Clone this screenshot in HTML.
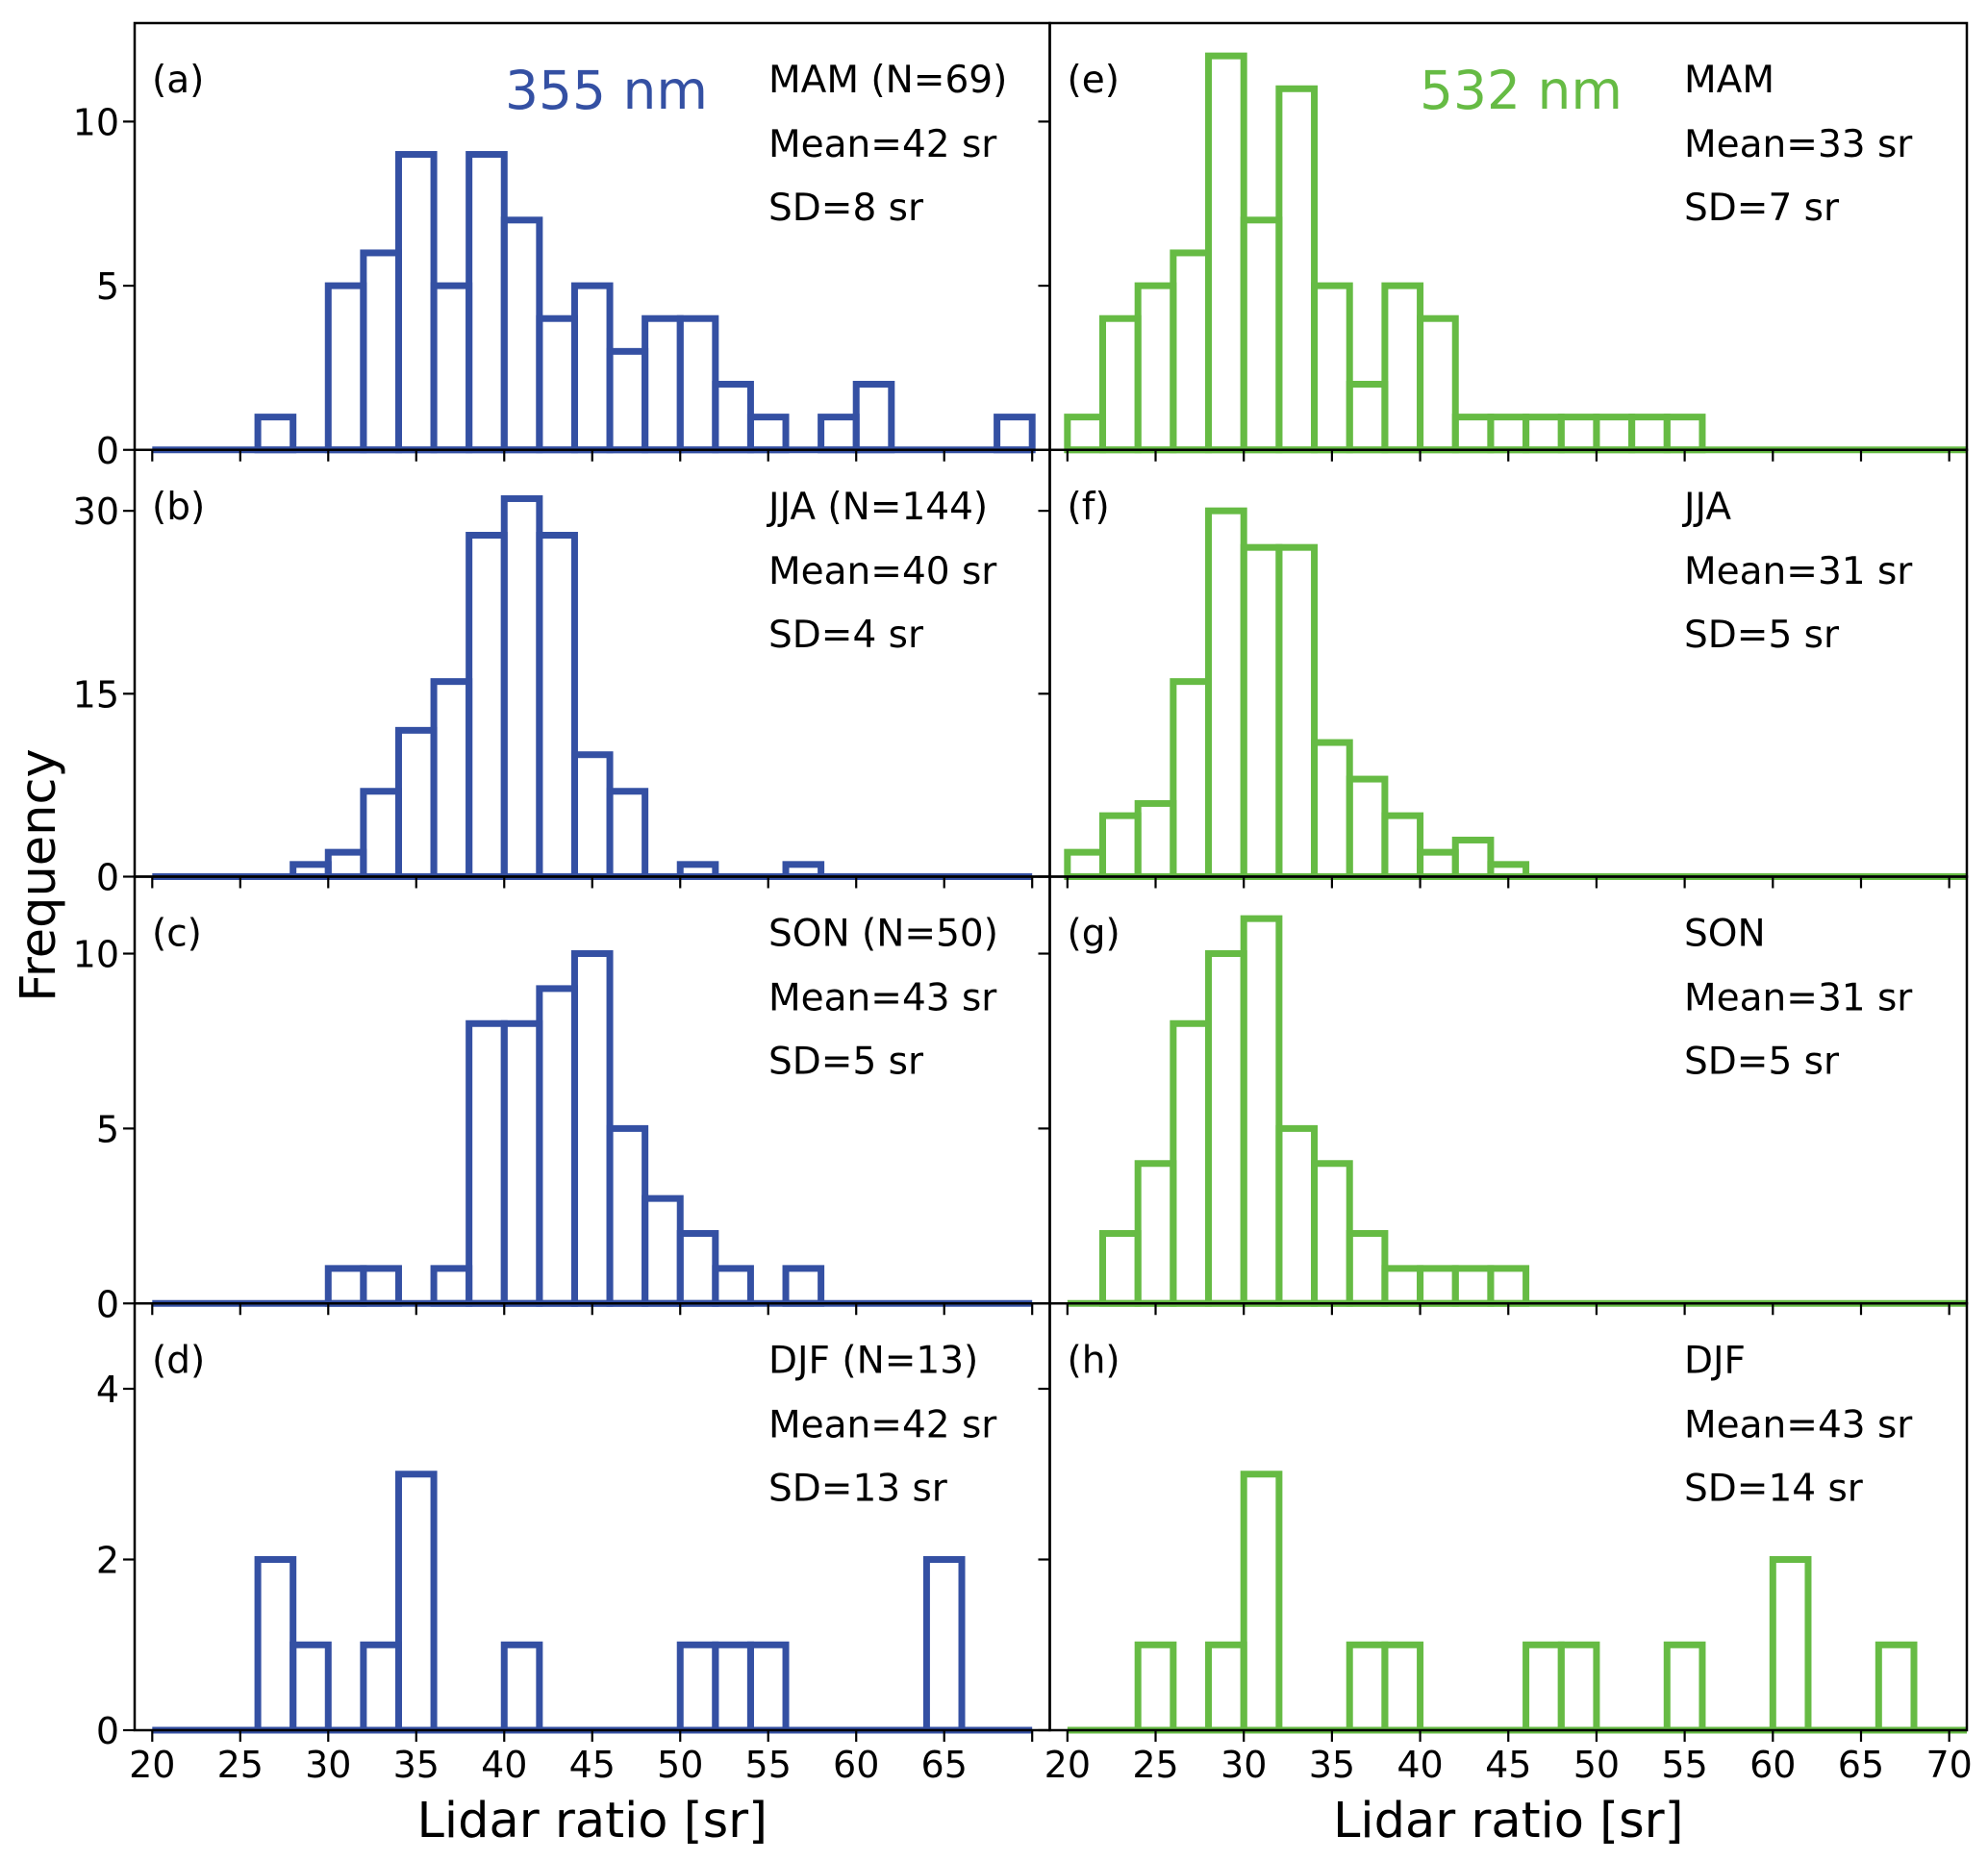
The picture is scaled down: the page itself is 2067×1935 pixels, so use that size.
<!DOCTYPE html>
<html><head><meta charset="utf-8"><style>
html,body{margin:0;padding:0;background:#fff}
svg{display:block;font-family:"DejaVu Sans","Liberation Sans",sans-serif}
</style></head><body>
<svg id="chart" width="2067" height="1935" viewBox="0 0 2067 1935" xmlns="http://www.w3.org/2000/svg"></svg>
<script>
const binStarts = [20,22,24,26,28,30,32,34,36,38,40,42,44,46,48,50,52,54,56,58,60,62,64,66,68];
const mam355 = [0,0,0,1,0,5,6,9,5,9,7,4,5,3,4,4,2,1,0,1,2,0,0,0,1];
const jja355 = [0,0,0,0,1,2,7,12,16,28,31,28,10,7,0,1,0,0,1,0,0,0,0,0,0];
const son355 = [0,0,0,0,0,1,1,0,1,8,8,9,10,5,3,2,1,0,1,0,0,0,0,0,0];
const djf355 = [0,0,0,2,1,0,1,3,0,0,1,0,0,0,0,1,1,1,0,0,0,0,2,0,0];
const mam532 = [1,4,5,6,12,7,11,5,2,5,4,1,1,1,1,1,1,1,0,0,0,0,0,0,0];
const jja532 = [2,5,6,16,30,27,27,11,8,5,2,3,1,0,0,0,0,0,0,0,0,0,0,0,0];
const son532 = [0,2,4,8,10,11,5,4,2,1,1,1,1,0,0,0,0,0,0,0,0,0,0,0,0];
const djf532 = [0,0,1,0,1,3,0,0,1,1,0,0,0,1,1,0,0,1,0,0,2,0,0,1,0];
const yMax = [13,35,12.2,5];
const yTicks = [[0,5,10],[0,15,30],[0,5,10],[0,2,4]];
const xTicks = [20,25,30,35,40,45,50,55,60,65,70];
const seasons = ["MAM","JJA","SON","DJF"];
const nCounts = [69,144,50,13];
const means355 = [42,40,43,42], sds355 = [8,4,5,13];
const means532 = [33,31,31,43], sds532 = [7,5,5,14];
const letters355 = ["(a)","(b)","(c)","(d)"], letters532 = ["(e)","(f)","(g)","(h)"];

const svg = document.getElementById('chart');
const NS = 'http://www.w3.org/2000/svg';
function mk(tag, attrs, parent){const e=document.createElementNS(NS,tag);for(const k in attrs)e.setAttribute(k,attrs[k]);(parent||svg).appendChild(e);return e;}
const TOP=24, PH=443.75, XMIN=19, XMAX=71;
const cols=[{x0:140,x1:1091.5,color:'#3450a3',data:[mam355,jja355,son355,djf355],end:70,letters:letters355,means:means355,sds:sds355,statX:799,wl:'355 nm',wlX:525,labels:true,name:'355'},
            {x0:1091.5,x1:2045,color:'#66bb44',data:[mam532,jja532,son532,djf532],end:71,letters:letters532,means:means532,sds:sds532,statX:1751,wl:'532 nm',wlX:1476,labels:false,name:'532'}];
cols.forEach((c,ci)=>{
  const xs=v=>c.x0+(v-XMIN)/(XMAX-XMIN)*(c.x1-c.x0);
  for(let r=0;r<4;r++){
    const top=TOP+r*PH, bot=top+PH;
    const ys=v=>bot-v/yMax[r]*PH;
    const g=mk('g',{});
    
    
    const vals=c.data[r];
    for(let i=0;i<binStarts.length;i++){
      if(vals[i]>0){
        const b=mk('rect',{x:xs(binStarts[i]),y:ys(vals[i]),width:xs(binStarts[i]+2)-xs(binStarts[i]),height:ys(0)-ys(vals[i]),fill:'none',stroke:c.color,'stroke-width':7},g);
        
        
      }
    }
    const base=mk('line',{x1:xs(20),x2:xs(c.end),y1:ys(0),y2:ys(0),stroke:c.color,'stroke-width':7},g);
    
    
    const fr=mk('rect',{x:c.x0,y:top,width:c.x1-c.x0,height:PH,fill:'none',stroke:'#000','stroke-width':2.5},g);
    
    
    xTicks.forEach(t=>{ if(t<=XMAX) mk('line',{x1:xs(t),x2:xs(t),y1:bot,y2:bot+12,stroke:'#000','stroke-width':2.2},g); });
    yTicks[r].forEach(t=>{
      mk('line',{x1:c.x0-12,x2:c.x0,y1:ys(t),y2:ys(t),stroke:'#000','stroke-width':2.2},g);
      if(c.labels){
        const tl=mk('text',{x:c.x0-16,y:ys(t)+14,'text-anchor':'end','font-size':38,fill:'#000'},g);
        tl.textContent=t;
        
        
      }
    });
    const lt=mk('text',{x:c.x0+18,y:top+72,'font-size':39,fill:'#000'},g);
    lt.textContent=c.letters[r];
    
    
    const s1=mk('text',{x:c.statX,y:top+72,'font-size':39,fill:'#000'},g);
    s1.textContent=c.labels?seasons[r]+' (N='+nCounts[r]+')':seasons[r];
    
    
    const s2=mk('text',{x:c.statX,y:top+139,'font-size':39,fill:'#000'},g);
    s2.textContent='Mean='+c.means[r]+' sr';
    
    
    const s3=mk('text',{x:c.statX,y:top+205,'font-size':39,fill:'#000'},g);
    s3.textContent='SD='+c.sds[r]+' sr';
    
    
    if(r===0){
      const wl=mk('text',{x:c.wlX,y:top+89,'font-size':55,fill:c.color},g);
      wl.textContent=c.wl;
      
      
    }
    if(r===3){
      xTicks.forEach(t=>{
        if(!c.labels || t<70){
          const xl=mk('text',{x:xs(t),y:bot+49,'text-anchor':'middle','font-size':38,fill:'#000'},g);
          xl.textContent=t;
          
          
        }
      });
      const xt=mk('text',{x:(c.x0+c.x1)/2,y:bot+111,'text-anchor':'middle','font-size':51,fill:'#000'},g);
      xt.textContent='Lidar ratio [sr]';
      
      
    }
  }
});
const yt=mk('text',{x:0,y:0,'text-anchor':'middle','font-size':51,fill:'#000',transform:'translate(57,910) rotate(-90)'});
yt.textContent='Frequency';


</script>
</body></html>
